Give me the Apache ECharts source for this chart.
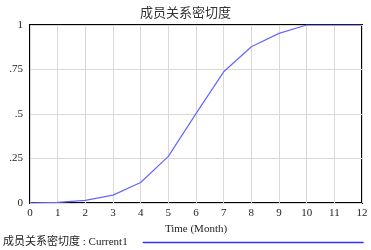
<!DOCTYPE html>
<html><head><meta charset="utf-8">
<script src="https://cdn.jsdelivr.net/npm/echarts@6/dist/echarts.min.js"></script>
<style>html,body{margin:0;padding:0;background:#fff}#c{width:371px;height:250px}</style>
</head><body><div id="c"></div>
<script>
const title = '成员关系密切度';
const seriesName = '成员关系密切度 : Current1';
const months = [0,1,2,3,4,5,6,7,8,9,10,11,12];
const values = [0,0.004,0.015,0.044,0.115,0.262,0.502,0.737,0.878,0.953,1.0,1.0,1.0];
const xTicks = [0,1,2,3,4,5,6,7,8,9,10,11,12];
const yTickLabels = {0:'0',0.25:'.25',0.5:'.5',0.75:'.75',1:'1'};
const xName = 'Time (Month)';

const chart = echarts.init(document.getElementById('c'), null, {renderer:'canvas'});
chart.setOption({
  animation:false,
  title:{text:title,left:'center',top:1,textStyle:{fontFamily:'Noto Sans CJK SC',fontSize:13,fontWeight:'normal',color:'#333'}},
  grid:{left:30,right:9,top:25,bottom:47,show:true,borderColor:'#000',borderWidth:2},
  legend:{left:3,top:237,padding:0,icon:'rect',itemWidth:221,itemHeight:1.5,align:'right',itemGap:0,
    textStyle:{fontFamily:'Liberation Serif, Noto Sans CJK SC',fontSize:11,color:'#222',padding:[0,10,0,0]},
    data:[{name:seriesName,itemStyle:{color:'#3333ff'}}]},
  xAxis:{type:'value',min:0,max:12,interval:1,name:xName,nameLocation:'middle',nameGap:17,
    nameTextStyle:{fontFamily:'Liberation Serif',fontSize:11,color:'#222'},
    axisLine:{show:false},axisTick:{show:false},
    axisLabel:{fontFamily:'Liberation Serif',fontSize:11,color:'#222',margin:5,
      formatter:v=>xTicks.includes(v)?String(v):''},
    splitLine:{show:true,lineStyle:{color:'#d9d9d9',width:1}}},
  yAxis:{type:'value',min:0,max:1,interval:0.25,
    axisLine:{show:false},axisTick:{show:false},
    axisLabel:{fontFamily:'Liberation Serif',fontSize:11,color:'#222',margin:7,
      formatter:v=>yTickLabels[v]!==undefined?yTickLabels[v]:''},
    splitLine:{show:true,lineStyle:{color:'#d9d9d9',width:1}}},
  series:[{name:seriesName,type:'line',data:months.map((m,i)=>[m,values[i]]),
    showSymbol:false,lineStyle:{color:'#6666ff',width:1.2},itemStyle:{color:'#3333ff'}}]
});
</script></body></html>
